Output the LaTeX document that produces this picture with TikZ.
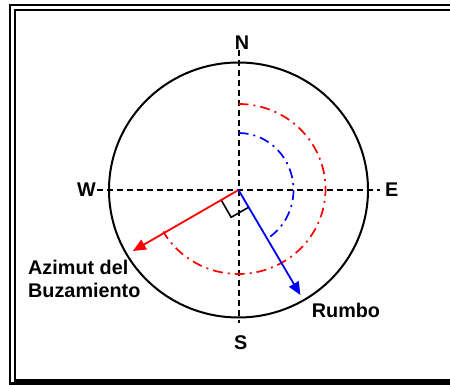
\documentclass[tikz,border=0pt]{standalone}
\usepackage{fontspec}
\setmainfont{Liberation Sans}
\usetikzlibrary{arrows.meta,calc}
\begin{document}
\begin{tikzpicture}[x=1pt,y=1pt,
  lbl/.style={font=\fontsize{19.8}{23}\selectfont\bfseries, inner sep=0pt},
  axis/.style={black, line width=2pt, dash pattern=on 6pt off 4pt},
  redarc/.style={red, line width=1.7pt, dash pattern=on 10pt off 5pt on 2pt off 5pt},
  bluearc/.style={blue, line width=1.7pt, dash pattern=on 10pt off 5pt on 2pt off 5pt},
  vec/.style={line width=1.8pt, -{Triangle[length=13pt,width=11pt]}},
  frame/.style={black, line width=2.2pt}]
\useasboundingbox (0,0) rectangle (450,385);
\begin{scope}
\clip (0,0) rectangle (450,385);
\draw[frame] (10,380) rectangle (470,1.5);
\draw[frame] (15,375) rectangle (470,4.5);
\end{scope}
\coordinate (O) at (238.5,195);
% axis ends
\coordinate (ntop) at (238.5,335);
\coordinate (sbot) at (238.5,62);
\coordinate (wend) at (97,195);
\coordinate (eend) at (380,195);
% circle
\draw[black, line width=2pt] (O) ellipse [x radius=129.5, y radius=127.5];
% axes
\draw[axis] (ntop) -- (sbot);
\draw[axis] (wend) -- (eend);
% arcs
\draw[redarc] ([yshift=86pt]O) arc[start angle=90, end angle=-150, x radius=87, y radius=85];
\draw[bluearc] ([yshift=57pt]O) arc[start angle=90, end angle=-57, x radius=55, y radius=57];
% right angle mark
\draw[black, line width=1.6pt] ($(O)+(210:20)$) -- ($(O)+(210:20)+(-60:20)$) -- ($(O)+(-60:20)$);
% vectors
\coordinate (rtip) at ($(O)+(210:122)$);
\coordinate (btip) at ($(O)+(-59.5:122)$);
\draw[vec, red] (O) -- (rtip);
\draw[vec, blue] (O) -- (btip);
% labels
\node[lbl] (N) at (242,342.3) {N};
\node[lbl] (E) at (391.7,195) {E};
\node[lbl] (S) at (240.7,42.3) {S};
\node[lbl] (W) at (86.5,195) {W};
\node[lbl, anchor=base west, align=left] (az) at (28,87.3) {Azimut del\\Buzamiento};
\node[lbl, anchor=base west] (rumbo) at (311.7,67) {Rumbo};
\end{tikzpicture}
\end{document}
